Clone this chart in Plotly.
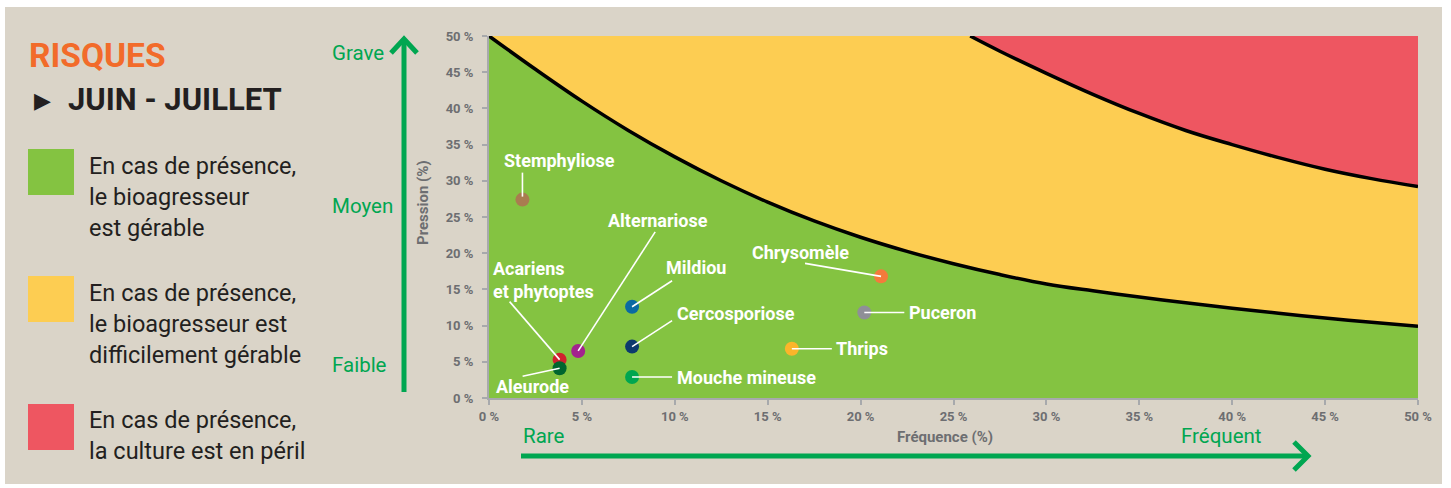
import plotly.graph_objects as go

# ---------------- data ----------------
freq_lower = [0, 2.5, 5, 7.5, 10, 12.5, 15, 17.5, 20, 22.5, 25, 27.5, 30, 32.5, 35, 37.5, 40, 42.5, 45, 47.5, 50]
press_lower = [50, 45.4, 41.0, 36.95, 33.3, 30.0, 27.05, 24.45, 22.2, 20.25, 18.55, 17.05, 15.75,
               14.8, 13.95, 13.15, 12.4, 11.7, 11.05, 10.45, 9.9]

freq_upper = [25.9, 27.5, 30, 32.5, 35, 37.5, 40, 42.5, 45, 47.5, 50]
press_upper = [50, 47.9, 44.85, 41.95, 39.3, 36.95, 35.0, 33.2, 31.6, 30.3, 29.2]

freq_range = [0, 50]
press_range = [0, 50]

pests = ["Stemphyliose", "Alternariose", "Mildiou", "Cercosporiose", "Mouche mineuse",
         "Acariens et phytoptes", "Aleurode", "Thrips", "Chrysomèle", "Puceron"]
pest_freq = [1.8, 4.8, 7.7, 7.7, 7.7, 3.8, 3.8, 16.3, 21.1, 20.2]
pest_press = [27.4, 6.5, 12.6, 7.1, 2.9, 5.3, 4.1, 6.8, 16.8, 11.8]
pest_colors = ["#a97c50", "#a3238e", "#0b6aa2", "#0c3a6d", "#00a650",
               "#d0202e", "#00652f", "#fbb52a", "#f47a3c", "#8f8f97"]

x_ticks = [0, 5, 10, 15, 20, 25, 30, 35, 40, 45, 50]
x_tick_labels = ["0 %", "5 %", "10 %", "15 %", "20 %", "25 %", "30 %", "35 %", "40 %", "45 %", "50 %"]
y_ticks = [0, 5, 10, 15, 20, 25, 30, 35, 40, 45, 50]
y_tick_labels = ["0 %", "5 %", "10 %", "15 %", "20 %", "25 %", "30 %", "35 %", "40 %", "45 %", "50 %"]

legend_lines = [["En cas de présence,", "le bioagresseur", "est gérable"],
                ["En cas de présence,", "le bioagresseur est", "difficilement gérable"],
                ["En cas de présence,", "la culture est en péril"]]

# ---------------- styles ----------------
GREEN = "#84c341"
YELLOW = "#fdcd52"
RED = "#ee5661"
BEIGE = "#dad4c8"
ARROW_GREEN = "#00a651"
DARK = "#231f20"
GREY = "#6d6e71"
FONT = "Roboto, Open Sans, sans-serif"

W, H = 1451, 488
PL, PR, PT, PB = 489, 1418, 36, 398


def pxx(x):
    return (x - PL) / (PR - PL)


def pxy(y):
    return (PB - y) / (PB - PT)


fig = go.Figure()

# yellow zone (whole plotting area underneath)
fig.add_trace(go.Scatter(x=freq_range, y=[press_range[1]] * 2, fill="tozeroy", fillcolor=YELLOW,
                         mode="lines", line=dict(width=0), hoverinfo="skip", showlegend=False))
# red zone (above upper curve)
fig.add_trace(go.Scatter(x=freq_upper + [freq_range[1]], y=press_upper + [press_range[1]],
                         fill="toself", fillcolor=RED, mode="lines",
                         line=dict(width=0), hoverinfo="skip", showlegend=False))
# green zone (below lower curve)
fig.add_trace(go.Scatter(x=freq_lower, y=press_lower, fill="tozeroy", fillcolor=GREEN,
                         mode="lines", line=dict(width=0, shape="spline", smoothing=1.1),
                         hoverinfo="skip", showlegend=False))
# boundary curves
for xs, ys in [(freq_lower, press_lower), (freq_upper, press_upper)]:
    fig.add_trace(go.Scatter(x=xs, y=ys, mode="lines",
                             line=dict(color="black", width=3.5, shape="spline", smoothing=1.1),
                             hoverinfo="skip", showlegend=False))

# pests
fig.add_trace(go.Scatter(x=pest_freq, y=pest_press, mode="markers",
                         marker=dict(size=14, color=pest_colors, line=dict(width=0)),
                         text=pests, hoverinfo="text", showlegend=False))

# label layout: text offset (px, y up), xanchor, leader line offsets (px)
label_layout = {
    "Stemphyliose": dict(text="Stemphyliose", off=(37, 39), anchor="center", line=((0, 3), (0, 27))),
    "Alternariose": dict(text="Alternariose", off=(80, 130), anchor="center", line=((0, 0), (77, 119))),
    "Mildiou": dict(text="Mildiou", off=(64, 39), anchor="center", line=((0, 0), (40, 26))),
    "Cercosporiose": dict(text="Cercosporiose", off=(43, 33), anchor="left", line=((0, 0), (40, 26))),
    "Mouche mineuse": dict(text="Mouche mineuse", off=(43, 0), anchor="left", line=((0, 0), (40, 0))),
    "Acariens et phytoptes": dict(text="Acariens<br>et phytoptes", off=(-69, 80), anchor="left",
                                  line=((0, 0), (-50, 58))),
    "Aleurode": dict(text="Aleurode", off=(-66, -18), anchor="left", line=((0, 0), (-37, -8))),
    "Thrips": dict(text="Thrips", off=(42, 0), anchor="left", line=((0, 0), (40, 0))),
    "Chrysomèle": dict(text="Chrysomèle", off=(-81, 24), anchor="center", line=((0, 0), (-76, 13))),
    "Puceron": dict(text="Puceron", off=(43, 0), anchor="left", line=((0, 0), (40, 0))),
}

shapes = []
annotations = []

# background panel
shapes.append(dict(type="rect", xref="paper", yref="paper", layer="below",
                   x0=pxx(5), x1=pxx(1442), y0=pxy(484), y1=pxy(7),
                   fillcolor=BEIGE, line=dict(width=0)))

for name, fx, fy in zip(pests, pest_freq, pest_press):
    cfg = label_layout[name]
    (sx, sy), (ex, ey) = cfg["line"]
    shapes.append(dict(type="line", xref="x", yref="y", xsizemode="pixel", ysizemode="pixel",
                       xanchor=fx, yanchor=fy, x0=sx, y0=sy, x1=ex, y1=ey,
                       line=dict(color="white", width=1.6), layer="above"))
    annotations.append(dict(x=fx, y=fy, xref="x", yref="y", text=cfg["text"], showarrow=False,
                            xanchor=cfg["anchor"], yanchor="middle", align="left",
                            xshift=cfg["off"][0], yshift=cfg["off"][1],
                            font=dict(family=FONT, size=18, color="white", weight="bold")))

# green axes arrows
arrow_line = dict(color=ARROW_GREEN, width=5)
shapes.append(dict(type="line", xref="paper", yref="paper", x0=pxx(404), x1=pxx(404),
                   y0=pxy(392), y1=pxy(40), line=arrow_line))
shapes.append(dict(type="path", xref="paper", yref="paper",
                   path=f"M {pxx(391)} {pxy(53)} L {pxx(404)} {pxy(39)} L {pxx(417)} {pxy(53)}",
                   line=arrow_line))
shapes.append(dict(type="line", xref="paper", yref="paper", x0=pxx(521), x1=pxx(1307),
                   y0=pxy(456), y1=pxy(456), line=arrow_line))
shapes.append(dict(type="path", xref="paper", yref="paper",
                   path=f"M {pxx(1294)} {pxy(442)} L {pxx(1308)} {pxy(456)} L {pxx(1294)} {pxy(470)}",
                   line=arrow_line))

# legend squares
for (top, bot), col in zip([(149, 195), (276, 322), (404, 450)], [GREEN, YELLOW, RED]):
    shapes.append(dict(type="rect", xref="paper", yref="paper", x0=pxx(28), x1=pxx(74),
                       y0=pxy(bot), y1=pxy(top), fillcolor=col, line=dict(width=0)))


def paper_text(text, x, y, size, color, xanchor="left", weight="normal", angle=0, family=FONT):
    annotations.append(dict(x=pxx(x), y=pxy(y), xref="paper", yref="paper", text=text,
                            showarrow=False, xanchor=xanchor, yanchor="middle", textangle=angle,
                            font=dict(family=family, size=size, color=color, weight=weight)))


paper_text("RISQUES", 27, 56, 33.5, "#f26b2a", weight="bold")
paper_text("▶", 32, 100, 22, DARK, family="DejaVu Sans")
paper_text("JUIN - JUILLET", 66, 99, 31, DARK, weight="bold")
for lines, y0 in zip(legend_lines, [166, 293, 420]):
    for i, txt in enumerate(lines):
        paper_text(txt, 87, y0 + 31 * i, 23.5, DARK)

paper_text("Grave", 330, 53, 20.5, ARROW_GREEN)
paper_text("Moyen", 330, 206, 20.5, ARROW_GREEN)
paper_text("Faible", 330, 365, 20.5, ARROW_GREEN)
paper_text("Rare", 521, 436, 20.5, ARROW_GREEN)
paper_text("Fréquent", 1179, 436, 20.5, ARROW_GREEN)
paper_text("Pression (%)", 423, 203, 15, GREY, xanchor="center", weight="bold", angle=-90)
paper_text("Fréquence (%)", 945, 437, 15, GREY, xanchor="center", weight="bold")

axis_common = dict(showgrid=False, zeroline=False, showline=True, linecolor="#a7a9ac", linewidth=2,
                   ticks="outside", ticklen=5, tickcolor="#a7a9ac", tickwidth=1.5,
                   tickfont=dict(family=FONT, size=13, color=GREY, weight="bold"), fixedrange=True)

fig.update_layout(
    width=W, height=H,
    margin=dict(l=PL, r=W - PR, t=PT, b=H - PB),
    paper_bgcolor="white",
    plot_bgcolor=BEIGE,
    shapes=shapes,
    annotations=annotations,
    xaxis=dict(range=freq_range, tickvals=x_ticks, ticktext=x_tick_labels, **axis_common),
    yaxis=dict(range=press_range, tickvals=y_ticks, ticktext=y_tick_labels, ticklabelstandoff=6,
               **axis_common),
    showlegend=False,
)

fig.write_html("out.html", config={"displayModeBar": False},
               post_script="document.body.style.margin='0';document.body.style.overflow='hidden';")
